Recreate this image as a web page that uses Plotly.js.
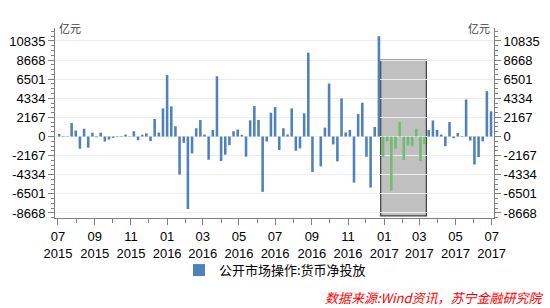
<!DOCTYPE html>
<html>
<head>
<meta charset="utf-8">
<script src="https://cdn.plot.ly/plotly-3.0.1.min.js"></script>
<style>html,body{margin:0;padding:0;background:#fff;}#chart{width:550px;height:308px;}</style>
</head>
<body>
<div id="chart"></div>
<script>
// Weekly dates (Fridays)
const weeks = [
'2015-07-03','2015-07-10','2015-07-17','2015-07-24','2015-07-31','2015-08-07','2015-08-14','2015-08-21','2015-08-28',
'2015-09-04','2015-09-11','2015-09-18','2015-09-25','2015-10-02','2015-10-09','2015-10-16','2015-10-23','2015-10-30',
'2015-11-06','2015-11-13','2015-11-20','2015-11-27','2015-12-04','2015-12-11','2015-12-18','2015-12-25',
'2016-01-01','2016-01-08','2016-01-15','2016-01-22','2016-01-29','2016-02-05','2016-02-12','2016-02-19','2016-02-26',
'2016-03-04','2016-03-11','2016-03-18','2016-03-25','2016-04-01','2016-04-08','2016-04-15','2016-04-22','2016-04-29',
'2016-05-06','2016-05-13','2016-05-20','2016-05-27','2016-06-03','2016-06-10','2016-06-17','2016-06-24',
'2016-07-01','2016-07-08','2016-07-15','2016-07-22','2016-07-29','2016-08-05','2016-08-12','2016-08-19','2016-08-26',
'2016-09-02','2016-09-09','2016-09-16','2016-09-23','2016-09-30','2016-10-07','2016-10-14','2016-10-21','2016-10-28',
'2016-11-04','2016-11-11','2016-11-18','2016-11-25','2016-12-02','2016-12-09','2016-12-16','2016-12-23','2016-12-30',
'2017-01-06','2017-01-13','2017-01-20','2017-01-27','2017-02-03','2017-02-10','2017-02-17','2017-02-24',
'2017-03-03','2017-03-10','2017-03-17','2017-03-24','2017-03-31','2017-04-07','2017-04-14','2017-04-21','2017-04-28',
'2017-05-05','2017-05-12','2017-05-19','2017-05-26','2017-06-02','2017-06-09','2017-06-16','2017-06-23','2017-06-30'
];
// 公开市场操作:货币净投放 (亿元)
const netInjection = [
300,-60,40,1545,680,-1390,880,-1270,430,
-80,430,-565,-340,-150,-60,50,225,-40,
600,-415,200,360,-510,1990,450,3190,
6984,3417,1164,-4318,-713,-8224,-1915,940,1877,
225,-2628,750,6834,-2780,-2065,-976,600,790,
190,-2290,1840,3455,1877,-6270,-563,2700,
3340,-1540,940,225,3190,-1615,-1350,2630,9500,
-4018,0,-3380,1014,6008,-900,-2816,4318,450,
750,-5220,2553,3830,-2290,-5780,1090,11378,-2300,
-530,-6130,-1370,1650,-2670,-1010,-1090,880,
-2780,-880,750,1820,750,225,-1090,1650,-190,
400,60,4200,-450,-3170,-2330,-540,5144,2854
];
const seriesName = '公开市场操作:货币净投放';
const yTickVals = [-8668,-6501,-4334,-2167,0,2167,4334,6501,8668,10835];
const yTickText = ['-8668','-6501','-4334','-2167','0','2167','4334','6501','8668','10835'];
const xTickVals = ['2015-07-01','2015-09-01','2015-11-01','2016-01-01','2016-03-01','2016-05-01','2016-07-01','2016-09-01','2016-11-01','2017-01-01','2017-03-01','2017-05-01','2017-07-01'];
const xTickText = ['07<br>2015','09<br>2015','11<br>2015','01<br>2016','03<br>2016','05<br>2016','07<br>2016','09<br>2016','11<br>2016','01<br>2017','03<br>2017','05<br>2017','07<br>2017'];
// highlighted period
const highlightFrom = '2016-12-30';
const highlightTo = '2017-03-10';
const boxFrom = '2016-12-26', boxTo = '2017-03-13';
const boxTop = 8668, boxBottom = -9000;

const blue = '#4F81BD', green = '#6EBE6E';
const colors = weeks.map(d => (d >= highlightFrom && d <= highlightTo) ? green : blue);

const yRange = [-9236, 12304];
const minorY = [];
for (let v = -8668 - 541.75; v <= 12304; v += 541.75) minorY.push(v);

const tickFont = {family: 'Liberation Sans, Arial, sans-serif', size: 13, color: '#000'};
const axisGray = '#808080';

const yCommon = {
  range: yRange, tickmode: 'array', tickvals: yTickVals, ticktext: yTickText,
  showline: true, linecolor: axisGray, linewidth: 1,
  ticks: 'outside', ticklen: 6, tickcolor: axisGray, tickfont: tickFont,
  zeroline: false, fixedrange: true,
  minor: {tickmode: 'array', tickvals: minorY, ticks: 'outside', ticklen: 3, tickcolor: axisGray, showgrid: false}
};

const data = [{
  type: 'bar', x: weeks, y: netInjection, name: seriesName,
  marker: {color: colors, line: {width: 0}},
  showlegend: true
}, {
  type: 'scatter', mode: 'markers', x: [weeks[0]], y: [null], yaxis: 'y2',
  showlegend: false, hoverinfo: 'skip', marker: {opacity: 0}
}];

const layout = {
  width: 550, height: 308,
  margin: {l: 55, r: 56, t: 28, b: 90, pad: 0},
  paper_bgcolor: '#fff', plot_bgcolor: '#fff',
  bargap: 0.38,
  font: {family: 'Liberation Sans, Arial, sans-serif', size: 13, color: '#000'},
  xaxis: {
    type: 'date', range: ['2015-06-26', '2017-07-05'],
    tickmode: 'array', tickvals: xTickVals, ticktext: xTickText,
    showline: true, linecolor: axisGray, linewidth: 1,
    ticks: 'outside', ticklen: 6, tickcolor: axisGray, tickfont: tickFont,
    showgrid: false, zeroline: false,
    minor: {tickmode: 'linear', tick0: '2015-07-01', dtick: 'M1', ticks: 'outside', ticklen: 4, tickcolor: axisGray, showgrid: false}
  },
  yaxis: Object.assign({}, yCommon, {side: 'left', showgrid: true, gridcolor: '#EDEDED', gridwidth: 1}),
  yaxis2: Object.assign({}, yCommon, {side: 'right', overlaying: 'y', showgrid: false}),
  shapes: [{
    type: 'rect', xref: 'x', yref: 'y', layer: 'below',
    x0: boxFrom, x1: boxTo, y0: boxBottom, y1: boxTop,
    fillcolor: '#C0C0C0', line: {color: '#404040', width: 1.2}
  }],
  legend: {
    orientation: 'h', xref: 'container', yref: 'container',
    x: 0.5, xanchor: 'center', y: 0.123, yanchor: 'middle',
    font: {family: 'Noto Sans CJK SC, sans-serif', size: 13, color: '#000'},
    bgcolor: 'rgba(0,0,0,0)'
  },
  annotations: [
    {text: '亿元', xref: 'paper', yref: 'paper', x: 0.005, y: 1.0, xanchor: 'left', yanchor: 'middle', showarrow: false,
     font: {family: 'Noto Sans CJK SC, sans-serif', size: 11, color: '#404040'}},
    {text: '亿元', xref: 'paper', yref: 'paper', x: 0.995, y: 1.0, xanchor: 'right', yanchor: 'middle', showarrow: false,
     font: {family: 'Noto Sans CJK SC, sans-serif', size: 11, color: '#404040'}},
    {text: '<i>数据来源:Wind资讯，苏宁金融研究院</i>', xref: 'paper', yref: 'paper', x: 1.1185, y: -0.416, xanchor: 'right', yanchor: 'middle', showarrow: false,
     font: {family: 'Noto Sans CJK SC, sans-serif', size: 13, color: '#FF0000'}}
  ]
};

Plotly.newPlot('chart', data, layout, {displayModeBar: false, staticPlot: true});
</script>
</body>
</html>
